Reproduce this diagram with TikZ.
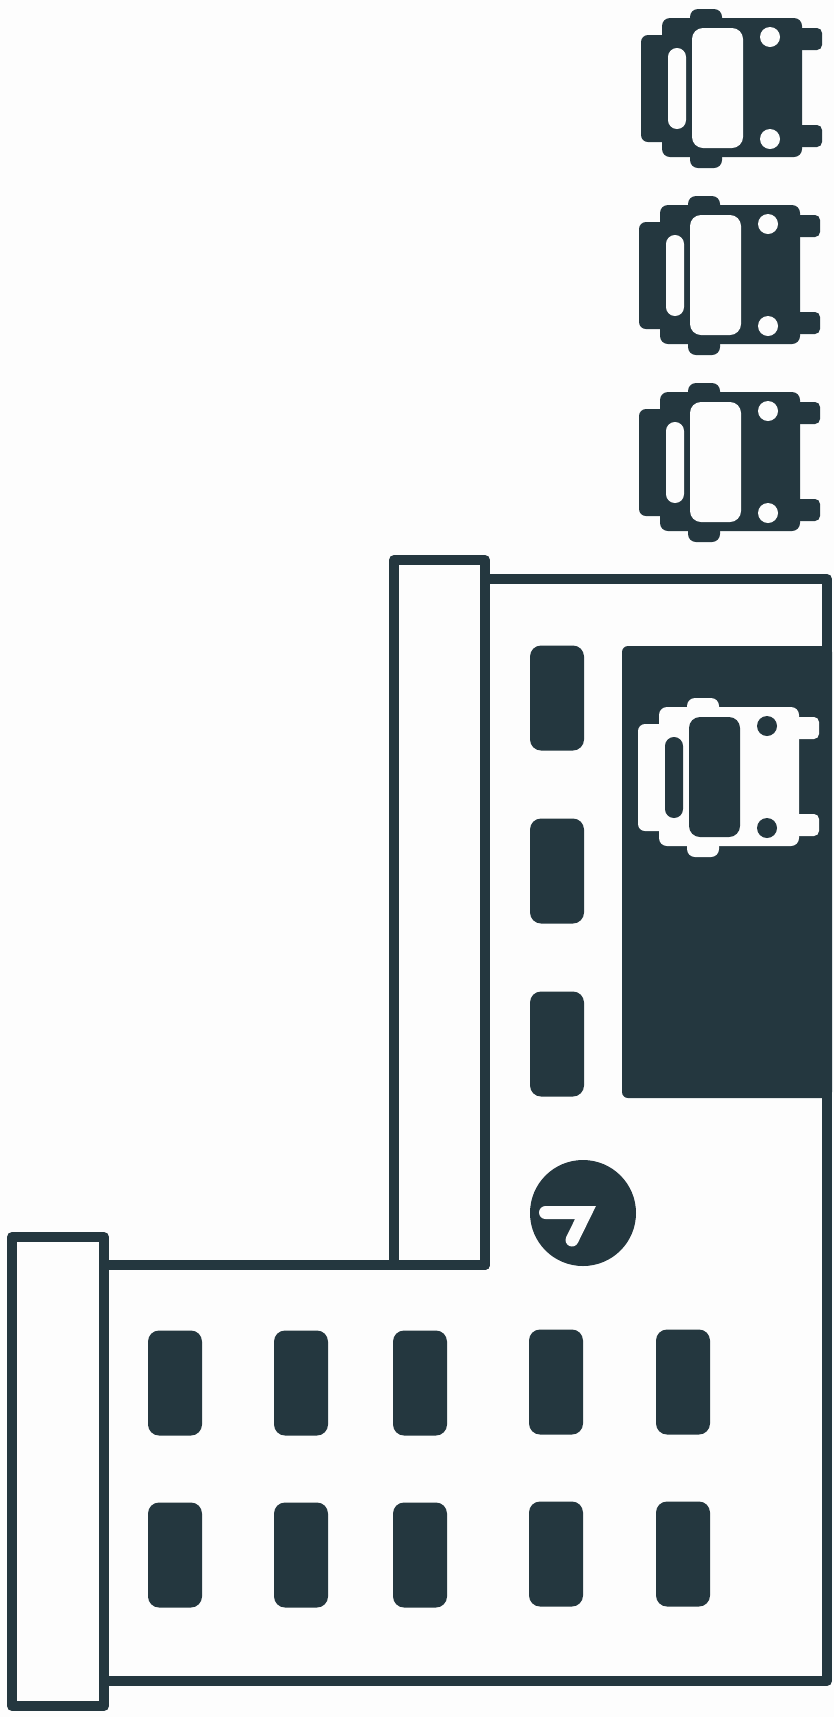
\documentclass[tikz,border=0pt]{standalone}
\usepackage{xcolor}
\usepackage{tikz}
\definecolor{ink}{HTML}{24373F}
\definecolor{paper}{HTML}{FDFDFD}
\tikzset{
  wall/.style={draw=ink, line width=10pt, line join=round},
  spot/.style={fill=ink, rounded corners=11pt, inner sep=0pt, minimum width=54pt, minimum height=105pt},
  pics/truck/.style n args={2}{code={
    \fill[#1, rounded corners=8pt] (21,9) rectangle (161,148);
    \fill[#1, rounded corners=7pt] (0,26) rectangle (40,133);
    \fill[#1, rounded corners=8pt] (49,0) rectangle (81,30);
    \fill[#1, rounded corners=8pt] (49,130) rectangle (81,159);
    \fill[#1, rounded corners=5pt] (140,19) rectangle (181,41);
    \fill[#1, rounded corners=5pt] (140,116) rectangle (181,138);
    \fill[#2, rounded corners=11pt] (51,19) rectangle (102,139);
    \fill[#2, rounded corners=8.9pt] (27,39) rectangle (45,120);
    \fill[#2] (129,28) circle (10) (129,130) circle (10);
  }}
}
\begin{document}
\begin{tikzpicture}[x=1pt, y=-1pt]
\fill[paper] (0,0) rectangle (834,1717);
\useasboundingbox (0,0) rectangle (834,1717);
% queue
\pic at (641,9) {truck={ink}{paper}};
\pic at (639,196) {truck={ink}{paper}};
\pic at (639,383) {truck={ink}{paper}};
% building
\draw[wall] (485,579) -- (827,579) -- (827,1681) -- (104,1681) -- (104,1265) -- (485,1265) -- cycle;
\draw[wall, fill=paper] (394,560) rectangle (485,1265);
\draw[wall, fill=paper] (12,1237) rectangle (104,1706);
% dock
\fill[ink, rounded corners=6pt] (622,646) rectangle (832,1098);
\pic at (638,698) {truck={paper}{ink}};
% spots
\foreach \i/\y in {1/698, 2/871, 3/1044}
  \node[spot] (dock\i) at (557,\y) {};
\foreach \i/\x/\y in {1/175/0, 2/301/0, 3/420/0, 4/556/-1, 5/683/-1} {
  \node[spot] (upper\i) at (\x,1383+\y) {};
  \node[spot] (lower\i) at (\x,1555+\y) {};
}
% direction
\node[circle, fill=ink, inner sep=0pt, minimum size=106pt] (sign) at (583,1213) {};
\draw[paper, line width=13pt, line cap=round, line join=miter] (545.5,1212.5) -- (585.5,1212.5) -- (572,1240);
\end{tikzpicture}
\end{document}
